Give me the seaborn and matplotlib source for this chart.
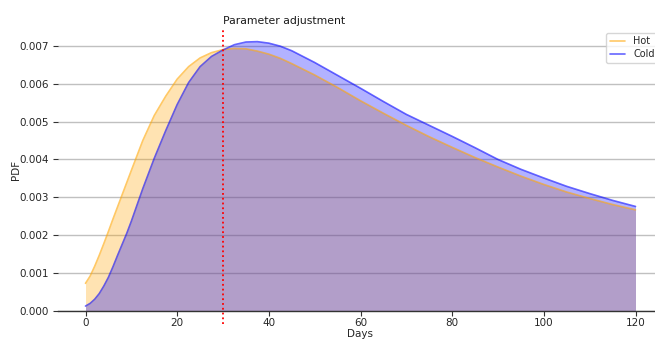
import matplotlib
matplotlib.use("Agg")
import matplotlib.pyplot as plt
import seaborn as sns
import pandas as pd

days = [0, 1, 2, 3, 4, 5, 6, 7, 8, 9, 10, 12.5, 15, 17.5, 20, 22.5, 25, 27.5, 30,
        32.5, 35, 37.5, 40, 42.5, 45, 50, 55, 60, 65, 70, 75, 80, 85, 90, 95, 100,
        105, 110, 115, 120]
hot = [0.00073, 0.00092, 0.00118, 0.00147, 0.00178, 0.00210, 0.00243, 0.00275,
       0.00307, 0.00339, 0.00371, 0.00450, 0.00516, 0.00567, 0.00612, 0.00645,
       0.00668, 0.00682, 0.00690, 0.00693, 0.00692, 0.00686, 0.00678, 0.00667,
       0.00653, 0.00623, 0.00590, 0.00555, 0.00522, 0.00490, 0.00460, 0.00432,
       0.00405, 0.00380, 0.00356, 0.00334, 0.00314, 0.00297, 0.00281, 0.00267]
cold = [0.00013, 0.00020, 0.00031, 0.00046, 0.00066, 0.00089, 0.00117, 0.00147,
        0.00176, 0.00205, 0.00237, 0.00323, 0.00403, 0.00476, 0.00545, 0.00603,
        0.00645, 0.00672, 0.00689, 0.00703, 0.00710, 0.00711, 0.00707, 0.00699,
        0.00687, 0.00656, 0.00622, 0.00588, 0.00553, 0.00519, 0.00490, 0.00461,
        0.00431, 0.00400, 0.00374, 0.00351, 0.00329, 0.00310, 0.00292, 0.00276]
series_names = ["Hot", "Cold"]
adjust_day = 30
annotation = "Parameter adjustment"

sns.set_style("white")
plt.rcParams['font.family'] = ['DejaVu Sans']

df = pd.DataFrame({"Days": days * 2,
                   "PDF": hot + cold,
                   "series": [series_names[0]] * len(days) + [series_names[1]] * len(days)})

fig = plt.figure(figsize=(6.55, 3.43), dpi=100)
ax = fig.add_axes([58 / 655, 32 / 343, 605 / 655, 283 / 343])

ax.fill_between(days, hot, color="orange", alpha=0.3, linewidth=0)
ax.fill_between(days, cold, color="blue", alpha=0.3, linewidth=0)
sns.lineplot(data=df, x="Days", y="PDF", hue="series",
             palette={"Hot": "orange", "Cold": "blue"}, alpha=0.6,
             linewidth=1.2, ax=ax)

ax.set_xlim(-6, 126)
ax.set_ylim(0, 0.00747)
ax.set_yticks([0, 0.001, 0.002, 0.003, 0.004, 0.005, 0.006, 0.007])
ax.set_yticklabels([f"{v:.3f}" for v in ax.get_yticks()])
ax.set_xticks([0, 20, 40, 60, 80, 100, 120])
ax.yaxis.grid(True, color="#c0c0c0", linewidth=1)
ax.set_axisbelow(True)
for s in ["left", "right", "top"]:
    ax.spines[s].set_visible(False)
ax.spines["bottom"].set_color("#333333")
ax.spines["bottom"].set_linewidth(1.0)
ax.tick_params(axis="both", which="both", length=3.5, width=0.8, color="#333333",
               labelsize=7.5, labelcolor="#262626", left=True, bottom=True)
ax.tick_params(axis="x", pad=1.5)
ax.tick_params(axis="y", pad=3)
ax.set_xlabel("Days", fontsize=7.5, color="#262626", labelpad=1)
ax.set_ylabel("PDF", fontsize=7.5, color="#262626", labelpad=-1)

ax.axvline(adjust_day, ymin=-0.045, ymax=1, color="red", linestyle=":",
           linewidth=1.3, clip_on=False)
ax.text(adjust_day, 1.008, annotation, transform=ax.get_xaxis_transform(),
        ha="left", va="bottom", fontsize=7.8, color="#1a1a1a")

leg = ax.legend(loc="upper right", fontsize=7, frameon=True, handlelength=1.6,
                borderpad=0.35, labelspacing=0.3)
leg.set_title(None)

fig.savefig("out.png", dpi=100)
